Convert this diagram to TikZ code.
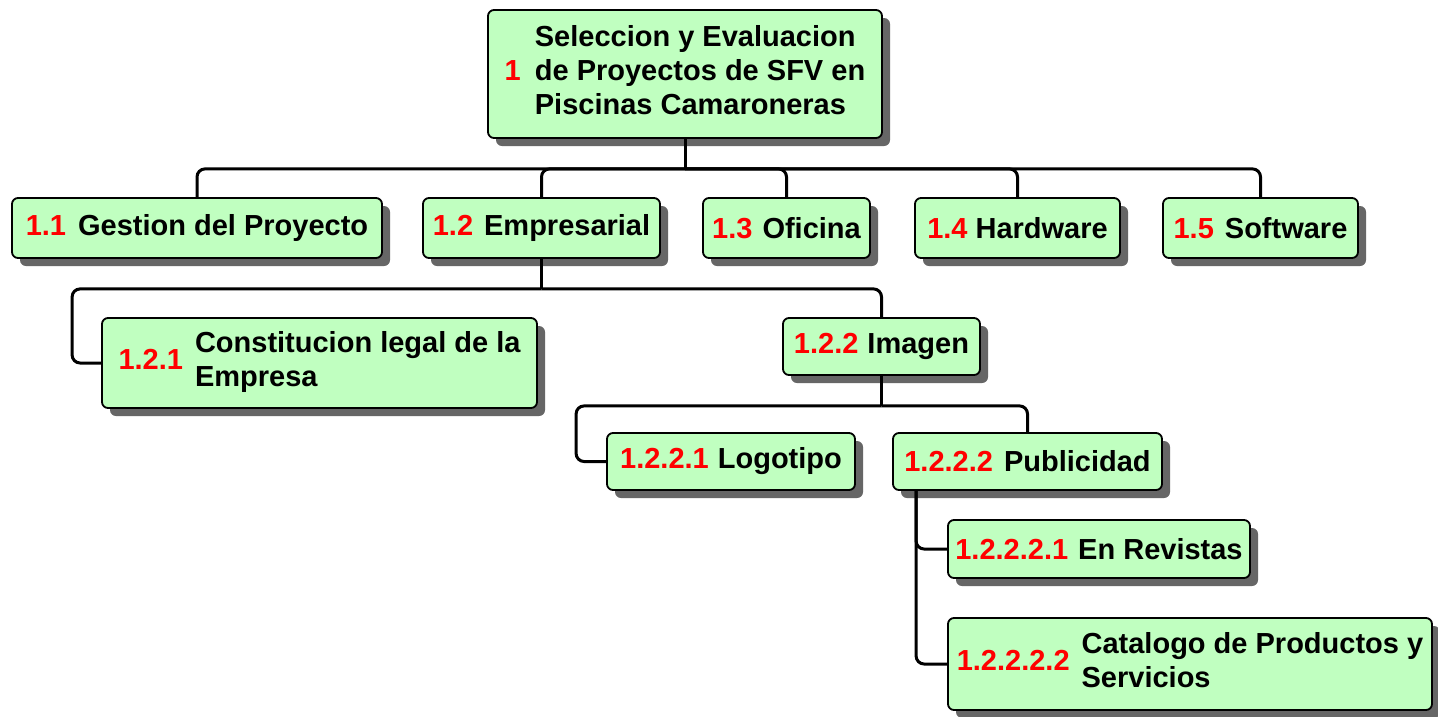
\documentclass[tikz,border=0pt]{standalone}
\usepackage{fontspec}
\setmainfont{Liberation Sans}
\usetikzlibrary{shadows}
\definecolor{boxgreen}{RGB}{192,255,192}
\definecolor{numred}{RGB}{255,0,0}
\newcommand\wbsnum[1]{\textcolor{numred}{#1}}
\begin{document}
\begin{tikzpicture}[x=1pt,y=-1pt,
  wbs/.style={draw=black, line width=1.8pt, rounded corners=6pt, fill=boxgreen,
    drop shadow={shadow xshift=8pt, shadow yshift=-8pt, fill=black!60, opacity=1, draw=none},
    font=\fontsize{29}{34}\bfseries\selectfont, inner sep=0pt, align=center},
  conn/.style={line width=3pt, rounded corners=8pt}]
\path[use as bounding box, fill=white] (0,0) rectangle (1438,716);

\node[wbs, minimum width=394, minimum height=128] (root) at (685,74)
  {\begin{tabular}{@{}l@{\hspace{14pt}}l@{}}\wbsnum{1} & \begin{tabular}{@{}l@{}}Seleccion y Evaluacion\\de Proyectos de SFV en\\Piscinas Camaroneras\end{tabular}\end{tabular}};

\node[wbs, minimum width=370, minimum height=60] (n11) at (197,228) {\wbsnum{1.1}\hspace{12pt}Gestion del Proyecto};
\node[wbs, minimum width=237, minimum height=60] (n12) at (541.5,228) {\wbsnum{1.2}\hspace{11pt}Empresarial};
\node[wbs, minimum width=167, minimum height=60] (n13) at (786.5,228) {\wbsnum{1.3}\hspace{10pt}Oficina};
\node[wbs, minimum width=205, minimum height=60] (n14) at (1017.5,228) {\wbsnum{1.4}\hspace{8pt}Hardware};
\node[wbs, minimum width=195, minimum height=60] (n15) at (1260.5,228) {\wbsnum{1.5}\hspace{11pt}Software};

\node[wbs, minimum width=435, minimum height=90] (n121) at (319.5,363)
  {\begin{tabular}{@{}l@{\hspace{12pt}}l@{}}\wbsnum{1.2.1} & \begin{tabular}{@{}l@{}}Constitucion legal de la\\Empresa\end{tabular}\end{tabular}};
\node[wbs, minimum width=197, minimum height=57] (n122) at (881.5,346.5) {\wbsnum{1.2.2}\hspace{9pt}Imagen};

\node[wbs, minimum width=248, minimum height=57] (n1221) at (731,461.5) {\wbsnum{1.2.2.1}\hspace{9pt}Logotipo};
\node[wbs, minimum width=269, minimum height=57] (n1222) at (1027.5,461.5) {\wbsnum{1.2.2.2}\hspace{11pt}Publicidad};

\node[wbs, minimum width=302, minimum height=58] (n12221) at (1099,549) {\wbsnum{1.2.2.2.1}\hspace{10pt}En Revistas};
\node[wbs, minimum width=484, minimum height=92] (n12222) at (1190,664)
  {\begin{tabular}{@{}l@{\hspace{12pt}}l@{}}\wbsnum{1.2.2.2.2} & \begin{tabular}{@{}l@{}}Catalogo de Productos y\\Servicios\end{tabular}\end{tabular}};

% level 1
\draw[conn] (root.south) -- ++(0,30) coordinate (b1);
\draw[conn] (b1) -| (n11.north);
\draw[conn] (b1) -| (n12.north);
\draw[conn] (b1) -| (n13.north);
\draw[conn] (b1) -| (n14.north);
\draw[conn] (b1) -| (n15.north);
% level 2
\draw[conn] (n12.south) -- ++(0,30) coordinate (b2);
\draw[conn] (b2) -| ([xshift=-29pt]n121.west) -- (n121.west);
\draw[conn] (b2) -| (n122.north);
% level 3
\draw[conn] (n122.south) -- ++(0,30) coordinate (b3);
\draw[conn] (b3) -| ([xshift=-30pt]n1221.west) -- (n1221.west);
\draw[conn] (b3) -| (n1222.north);
% level 4
\coordinate (b4) at ([xshift=24pt]n1222.south west);
\draw[conn] (b4) |- (n12221.west);
\draw[conn] (b4) |- (n12222.west);
\end{tikzpicture}
\end{document}
